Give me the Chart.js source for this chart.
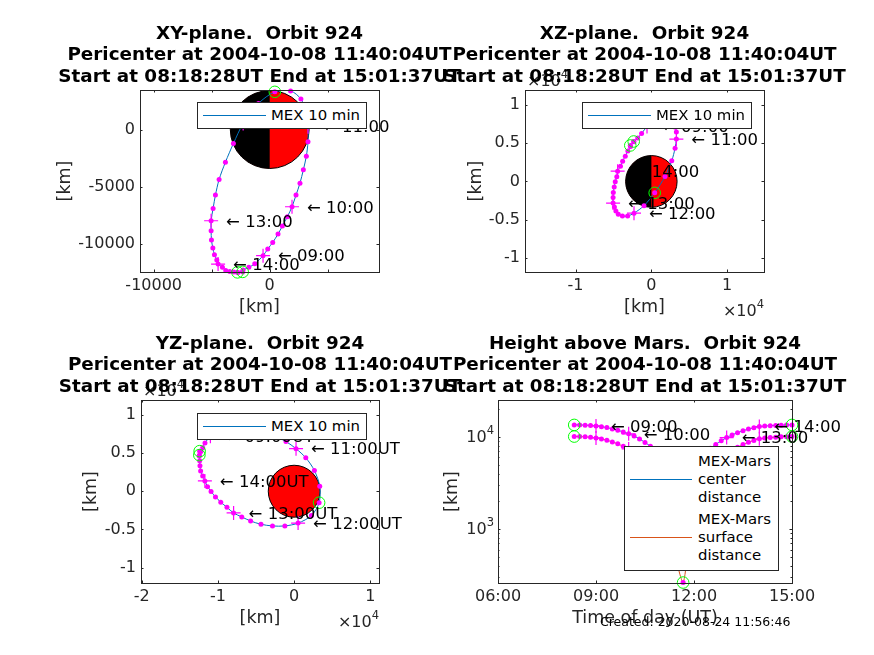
<!DOCTYPE html>
<html>
<head>
<meta charset="utf-8">
<script src="https://cdn.jsdelivr.net/npm/chart.js@4"></script>
<style>
  html, body { margin: 0; padding: 0; background: #fff; }
  #page { position: relative; width: 874px; height: 655px; overflow: hidden; font-family: "DejaVu Sans", sans-serif; }
  canvas { position: absolute; left: 0; top: 0; }
  .legend { position: absolute; box-sizing: border-box; background: #fff; border: 1px solid #262626; }
  .legend i { position: absolute; height: 1px; }
  .legend span { position: absolute; font-size: 14.9px; line-height: 18px; color: #000; white-space: pre; }
  #created { position: absolute; left: 600px; top: 614px; font-size: 12.5px; line-height: 16px; color: #000; white-space: pre; z-index: 5; }
</style>
</head>
<body>
<div id="page"><div id="created">Created: 2020-08-24 11:56:46</div></div>
<script>
const times = ['08:20','08:30','08:40','08:50',
  '09:00','09:10','09:20','09:30','09:40','09:50',
  '10:00','10:10','10:20','10:30','10:40','10:50',
  '11:00','11:10','11:20','11:30','11:40','11:50',
  '12:00','12:10','12:20','12:30','12:40','12:50',
  '13:00','13:10','13:20','13:30','13:40','13:50',
  '14:00','14:10','14:20','14:30','14:40','14:50','15:00'];
const xKm = [-2780,-2300,-1800,-1290,
  -574,-170,260,717,1090,1520,
  1923,2267,2610,2900,3157,3300,
  3300,3130,2690,1800,440,-970,
  -2290,-3128,-3817,-4362,-4678,-4879,
  -5050,-5050,-5020,-4900,-4764,-4560,
  -4450,-4075,-3790,-3440,-3100,-2750,-2330];
const yKm = [-12440,-12240,-12000,-11700,
  -10990,-10410,-9830,-9106,-8410,-7600,
  -6728,-5713,-4669,-3509,-2320,-1073,
  250,1530,2660,3360,3280,2270,
  520,-1218,-2842,-4350,-5713,-6873,
  -7946,-8816,-9628,-10324,-10904,-11368,
  -11716,-12000,-12270,-12360,-12400,-12450,-12400];
const zKm = [4720,5200,5700,6300,
  7200,7500,7750,7950,8080,8120,
  8100,8000,7800,7500,7100,6500,
  5560,4370,2710,650,-1500,-3180,
  -4170,-4540,-4540,-4320,-3890,-3360,
  -2840,-2100,-1440,-740,-40,600,
  1350,2000,2660,3320,4000,4600,5240];
const centerDist = [13480,13480,13400,13300,
  13150,12900,12600,12200,11800,11300,
  10800,10200,9500,8700,7900,7000,
  6000,5000,4300,3800,3660,4060,
  4770,5650,6580,7510,8290,9070,
  9835,10500,11100,11650,12150,12550,
  12940,13100,13220,13320,13400,13450,13480];
const surfaceDist = [10084,10084,10004,9904,
  9754,9504,9204,8804,8404,7904,
  7404,6804,6104,5304,4504,3604,
  2604,1604,904,404,264,664,
  1374,2254,3184,4114,4894,5674,
  6439,7104,7704,8254,8754,9154,
  9544,9704,9824,9924,10004,10054,10084];

const hourTimes = ['09:00','10:00','11:00','12:00','13:00','14:00'];
const greenTimes = ['08:20','11:40','15:00'];
const marsRadius = 3396;

const titleCommon = ['Pericenter at 2004-10-08 11:40:04UT', 'Start at 08:18:28UT End at 15:01:37UT'];
const xyTicksX = [-10000,-5000,0,5000];
const xyTicksY = [-10000,-5000,0];
const e4TicksX = [-10000,0,10000];
const e4TicksX3 = [-20000,-10000,0,10000];
const e4TicksY = [-10000,-5000,0,5000,10000];
const timeTicks = [360,540,720,900];
const logTicks = [1000,10000];
const logExponents = ['3','4'];
const logMinor = [300,400,500,600,700,800,900,2000,3000,4000,5000,6000,7000,8000,9000,20000];

const W = 874, H = 655;
const BLUE = '#0072BD', ORANGE = '#D95319', MAGENTA = '#ff00ff', GREEN = '#00ff00', AXIS = '#262626';
const FONT = '"DejaVu Sans", sans-serif';

function toMin(t) { const p = t.split(':'); return +p[0] * 60 + +p[1]; }
function km(v) { return String(v); }
function e4(v) { return String(v / 10000); }
function hhmm(v) { const h = Math.floor(v / 60); return (h < 10 ? '0' : '') + h + ':00'; }

function pts(xs, ys) { return xs.map((x, i) => ({ x: x, y: ys[i] })); }
function pick(data, list) { return list.map(t => data[times.indexOf(t)]); }

function curve(data, color, label) {
  return { label: label, data: data, showLine: true, borderColor: color, borderWidth: 1, tension: 0.3, pointRadius: 0, order: 4 };
}
function marks(data) {
  return [
    { data: data, showLine: false, pointRadius: 2.5, pointBackgroundColor: MAGENTA, pointBorderWidth: 0, clip: false, order: 3 },
    { data: pick(data, hourTimes), showLine: false, pointStyle: 'cross', pointRadius: 7, pointBorderColor: MAGENTA, pointBorderWidth: 1.2, clip: false, order: 2 },
    { data: pick(data, greenTimes), showLine: false, pointStyle: 'circle', pointRadius: 5.8, pointBackgroundColor: 'transparent', pointBorderColor: GREEN, pointBorderWidth: 1, clip: false, order: 1 }
  ];
}

// base text with a raised exponent, like the original axis text
function drawPower(c, base, exp, x, y, align) {
  c.font = '16px ' + FONT;
  const bw = c.measureText(base).width;
  c.font = '11.5px ' + FONT;
  const sw = c.measureText(exp).width;
  const x0 = align === 'right' ? x - bw - sw : x;
  c.textAlign = 'left';
  c.font = '16px ' + FONT;
  c.fillText(base, x0, y);
  c.font = '11.5px ' + FONT;
  c.fillText(exp, x0 + bw, y - 7);
}

// box, inward ticks, Mars and the text annotations, all placed through the scales
const panelExtras = {
  id: 'panelExtras',
  beforeDatasetsDraw(chart, args, o) {
    if (!o.mars) return;
    const c = chart.ctx, sx = chart.scales.x, sy = chart.scales.y;
    const cx = sx.getPixelForValue(0), cy = sy.getPixelForValue(0);
    const rx = sx.getPixelForValue(marsRadius) - cx, ry = cy - sy.getPixelForValue(marsRadius);
    c.save();
    c.fillStyle = '#ff0000';
    c.beginPath(); c.ellipse(cx, cy, rx, ry, 0, 0, Math.PI * 2); c.fill();
    if (o.mars === 'half') {
      c.fillStyle = '#000';
      c.beginPath(); c.ellipse(cx, cy, rx, ry, 0, Math.PI / 2, Math.PI * 1.5); c.fill();
    }
    c.strokeStyle = '#000'; c.lineWidth = 1;
    c.beginPath(); c.ellipse(cx, cy, rx, ry, 0, 0, Math.PI * 2); c.stroke();
    c.restore();
  },
  afterDatasetsDraw(chart, args, o) {
    const c = chart.ctx, a = chart.chartArea, sx = chart.scales.x, sy = chart.scales.y;
    c.save();
    c.fillStyle = '#000';
    c.font = '16.5px ' + FONT;
    c.textBaseline = 'middle';
    c.textAlign = 'left';
    const at = pick(o.labelData, hourTimes);
    hourTimes.forEach((t, i) => {
      c.fillText('\u2190 ' + t + o.suffix, sx.getPixelForValue(at[i].x) + 15, sy.getPixelForValue(at[i].y) + 1.5);
    });
    c.strokeStyle = AXIS; c.lineWidth = 1;
    c.strokeRect(Math.round(a.left) + 0.5, Math.round(a.top) + 0.5, Math.round(a.width), Math.round(a.height));
    const tick = 2.5;
    c.beginPath();
    sx.ticks.forEach(t => {
      const p = Math.round(sx.getPixelForValue(t.value)) + 0.5;
      c.moveTo(p, a.top); c.lineTo(p, a.top + tick);
      c.moveTo(p, a.bottom); c.lineTo(p, a.bottom - tick);
    });
    sy.ticks.forEach(t => {
      const p = Math.round(sy.getPixelForValue(t.value)) + 0.5;
      c.moveTo(a.left, p); c.lineTo(a.left + tick, p);
      c.moveTo(a.right, p); c.lineTo(a.right - tick, p);
    });
    (o.minor || []).forEach(v => {
      const p = Math.round(sy.getPixelForValue(v)) + 0.5;
      c.moveTo(a.left, p); c.lineTo(a.left + 1.5, p);
      c.moveTo(a.right, p); c.lineTo(a.right - 1.5, p);
    });
    c.stroke();
    c.fillStyle = AXIS;
    if (o.exponent) {
      drawPower(c, '\u00d710', '4', a.right, a.bottom + 40, 'right');
      drawPower(c, '\u00d710', '4', a.left + 2, a.top - 8, 'left');
    }
    if (o.logLabels) {
      o.logLabels.forEach((v, i) => drawPower(c, '10', logExponents[i], a.left - 4, sy.getPixelForValue(v) + 1, 'right'));
    }
    // titles run wider than the axes and overlap the neighbour, as in the original
    c.fillStyle = '#000';
    c.font = 'bold 18.35px ' + FONT;
    c.textAlign = 'center';
    const mid = (a.left + a.right) / 2;
    o.title.forEach((line, i) => c.fillText(line, mid, a.top - 56 + i * 21.7));
    c.restore();
  }
};

function makePanel(p) {
  const el = document.createElement('canvas');
  el.width = W; el.height = H;
  document.getElementById('page').appendChild(el);
  const f = p.frame;
  const fixX = s => { s.height = p.xBox; s.paddingLeft = s.paddingRight = s.paddingTop = s.paddingBottom = 0; };
  const fixY = s => { s.width = f.left - p.yLeft; s.paddingLeft = s.paddingRight = s.paddingTop = s.paddingBottom = 0; };
  new Chart(el, {
    type: 'scatter',
    data: { datasets: p.datasets },
    plugins: [panelExtras],
    options: {
      responsive: false,
      animation: false,
      events: [],
      layout: { padding: { left: p.yLeft, right: W - f.right, top: f.top, bottom: H - f.bottom - p.xBox } },
      plugins: {
        legend: { display: false },
        tooltip: { enabled: false },
        title: { display: false },
        panelExtras: {
          mars: p.mars, labelData: p.labelData, suffix: p.suffix || '', exponent: p.exponent,
          minor: p.minor, logLabels: p.logLabels, title: [p.title].concat(titleCommon)
        }
      },
      scales: {
        x: {
          type: 'linear', min: p.xr[0], max: p.xr[1],
          afterBuildTicks: s => { s.ticks = p.xTicks.map(v => ({ value: v })); },
          afterFit: fixX,
          grid: { display: false, drawTicks: false }, border: { display: false },
          ticks: { color: AXIS, font: { family: FONT, size: 16 }, maxRotation: 0, autoSkip: false, padding: 4, callback: p.xFmt },
          title: { display: true, text: p.xTitle, color: AXIS, font: { family: FONT, size: 17.5 }, padding: 0 }
        },
        y: {
          type: p.yLog ? 'logarithmic' : 'linear', min: p.yr[0], max: p.yr[1],
          afterBuildTicks: s => { s.ticks = p.yTicks.map(v => ({ value: v })); },
          afterFit: fixY,
          grid: { display: false, drawTicks: false }, border: { display: false },
          ticks: { color: AXIS, font: { family: FONT, size: 16 }, autoSkip: false, padding: 5, callback: p.yFmt },
          title: { display: true, text: '[km]', color: AXIS, font: { family: FONT, size: 17.5 }, padding: 0 }
        }
      }
    }
  });
}

function addLegend(box, rows) {
  const d = document.createElement('div');
  d.className = 'legend';
  d.style.cssText = 'left:' + box.left + 'px;top:' + box.top + 'px;width:' + box.width + 'px;height:' + box.height + 'px';
  rows.forEach(r => {
    const line = document.createElement('i');
    line.style.cssText = 'left:' + r.lineX + 'px;width:' + r.lineW + 'px;top:' + r.lineY + 'px;background:' + r.color;
    d.appendChild(line);
    r.text.forEach((t, i) => {
      const s = document.createElement('span');
      s.textContent = t;
      s.style.cssText = 'left:' + r.textX + 'px;top:' + (r.textY + i * 18) + 'px';
      d.appendChild(s);
    });
  });
  document.getElementById('page').appendChild(d);
}

const xyData = pts(xKm, yKm), xzData = pts(xKm, zKm), yzData = pts(yKm, zKm);
const cenData = pts(times.map(toMin), centerDist), surData = pts(times.map(toMin), surfaceDist);

makePanel({
  title: 'XY-plane.  Orbit 924', frame: { left: 140, top: 90, right: 379, bottom: 272 },
  xr: [-11180, 9420], yr: [-12410, 3443], xTicks: xyTicksX, yTicks: xyTicksY,
  xFmt: v => (v === -5000 || v === 5000) ? '' : km(v), yFmt: km,
  xTitle: '[km]', xBox: 46, yLeft: 54.5, mars: 'half', labelData: xyData,
  datasets: [curve(xyData, BLUE, 'MEX 10 min')].concat(marks(xyData))
});
makePanel({
  title: 'XZ-plane.  Orbit 924', frame: { left: 525, top: 90, right: 764, bottom: 272 },
  xr: [-16670, 14860], yr: [-11890, 12000], xTicks: e4TicksX, yTicks: e4TicksY,
  xFmt: e4, yFmt: e4,
  xTitle: '[km]', xBox: 46, yLeft: 465.5, mars: 'half', labelData: xzData, exponent: true,
  datasets: [curve(xzData, BLUE, 'MEX 10 min')].concat(marks(xzData))
});
makePanel({
  title: 'YZ-plane.  Orbit 924', frame: { left: 141, top: 400, right: 379, bottom: 583 },
  xr: [-20100, 11140], yr: [-12000, 11930], xTicks: e4TicksX3, yTicks: e4TicksY,
  xFmt: e4, yFmt: e4,
  xTitle: '[km]', xBox: 46, yLeft: 80.5, mars: 'full', labelData: yzData, suffix: 'UT', exponent: true,
  datasets: [curve(yzData, BLUE, 'MEX 10 min')].concat(marks(yzData))
});
makePanel({
  title: 'Height above Mars.  Orbit 924', frame: { left: 498, top: 400, right: 792, bottom: 583 },
  xr: [360, 900], yr: [261, 25100], xTicks: timeTicks, yTicks: logTicks, yLog: true,
  xFmt: hhmm, yFmt: () => '', logLabels: logTicks,
  xTitle: 'Time of day (UT)', xBox: 46, yLeft: 441.5, labelData: cenData, minor: logMinor,
  datasets: [curve(cenData, BLUE, 'MEX-Mars center distance'), curve(surData, ORANGE, 'MEX-Mars surface distance')]
    .concat(marks(cenData)).concat(marks(surData))
});

const mexRow = { color: BLUE, lineX: 5, lineW: 63, lineY: 12, textX: 73, textY: 3, text: ['MEX 10 min'] };
addLegend({ left: 197, top: 102, width: 170, height: 27 }, [mexRow]);
addLegend({ left: 582, top: 102, width: 170, height: 27 }, [mexRow]);
addLegend({ left: 197, top: 413, width: 170, height: 27 }, [mexRow]);
addLegend({ left: 624, top: 446, width: 155, height: 125 }, [
  { color: BLUE, lineX: 5, lineW: 62, lineY: 32, textX: 73, textY: 5, text: ['MEX-Mars', 'center', 'distance'] },
  { color: ORANGE, lineX: 5, lineW: 62, lineY: 90, textX: 73, textY: 63, text: ['MEX-Mars', 'surface', 'distance'] }
]);
</script>
</body>
</html>
